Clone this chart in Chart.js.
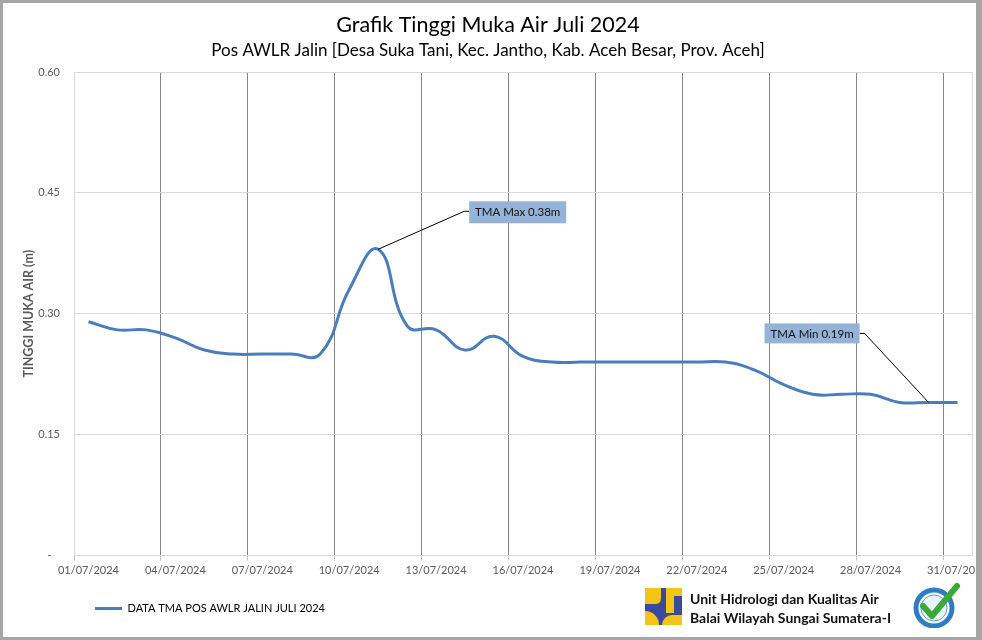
<!DOCTYPE html>
<html>
<head>
<meta charset="utf-8">
<script src="https://cdn.jsdelivr.net/npm/chart.js@4/dist/chart.umd.min.js"></script>
<style>
  html, body { margin: 0; padding: 0; background: #ffffff; }
  #wrap { position: relative; width: 982px; height: 640px; overflow: hidden; background: #fff; }
  #chart { position: absolute; left: 0; top: 0; }
  .frame { position: absolute; background: #a6a6a6; }
  #brand { position: absolute; left: 645px; top: 588px; width: 330px; height: 40px; }
  #brandText { position: absolute; left: 45px; top: 1px; font-family: Lato, sans-serif; font-weight: 700; font-size: 14px; line-height: 19px; color: #111; white-space: nowrap; }
</style>
</head>
<body>
<div id="wrap">
  <canvas id="chart" width="982" height="640"></canvas>
  <div class="frame" style="left:0;top:0;width:3px;height:640px;"></div>
  <div class="frame" style="left:0;top:0;width:982px;height:3px;"></div>
  <div class="frame" style="left:0;top:637px;width:982px;height:3px;"></div>
  <div class="frame" style="left:976px;top:0;width:6px;height:640px;"></div>
  <div id="brand">
    <svg width="37" height="37" viewBox="0 0 37 37" style="position:absolute;left:0;top:0;">
      <rect x="0" y="0" width="37" height="37" fill="#3a4a9b"/>
      <path d="M0 0 H16 V10 Q16 16 10 16 H0 Z" fill="#f5c418"/>
      <rect x="21" y="0" width="16" height="8" fill="#f5c418"/>
      <rect x="21" y="8" width="8" height="17" fill="#f5c418"/>
      <path d="M0 23 A14 14 0 0 1 14 37 H0 Z" fill="#f5c418"/>
      <path d="M17 37 A10 10 0 0 1 27 27 H37 V37 Z" fill="#f5c418"/>
    </svg>
    <div id="brandText">Unit Hidrologi dan Kualitas Air<br>Balai Wilayah Sungai Sumatera-I</div>
    <svg width="50" height="46" viewBox="0 0 50 46" style="position:absolute;left:266px;top:-6px;">
      <circle cx="23" cy="26" r="18" fill="#ffffff" stroke="#2e7dc4" stroke-width="5"/>
      <circle cx="23" cy="26" r="13" fill="#e9f3fb" stroke="#5aa0d8" stroke-width="1"/>
      <path d="M12 24 L21 34 L46 4" fill="none" stroke="#3aa935" stroke-width="6" stroke-linecap="round" stroke-linejoin="round"/>
    </svg>
  </div>
</div>
<script>
// ---- data ----
const categories = ['01/07/2024','02/07/2024','03/07/2024','04/07/2024','05/07/2024','06/07/2024','07/07/2024','08/07/2024','09/07/2024','10/07/2024','11/07/2024','12/07/2024','13/07/2024','14/07/2024','15/07/2024','16/07/2024','17/07/2024','18/07/2024','19/07/2024','20/07/2024','21/07/2024','22/07/2024','23/07/2024','24/07/2024','25/07/2024','26/07/2024','27/07/2024','28/07/2024','29/07/2024','30/07/2024','31/07/2024'];
const tmaValues = [0.29,0.28,0.28,0.27,0.255,0.25,0.25,0.25,0.25,0.33,0.38,0.285,0.28,0.255,0.272,0.247,0.24,0.24,0.24,0.24,0.24,0.24,0.24,0.23,0.212,0.20,0.20,0.20,0.19,0.19,0.19];
const yTicks = [0, 0.15, 0.30, 0.45, 0.60];
const seriesName = 'DATA TMA POS AWLR JALIN JULI 2024';
const calloutTexts = ['TMA Max 0.38m', 'TMA Min 0.19m'];
const calloutIndex = [10, 29];

const FONT = 'Lato, "Open Sans", sans-serif';
const LINE_COLOR = '#4a7ebb';

const calloutStyle = [
  { elbowDx: 86, elbowDy: -38, boxSide: 'left', boxDx: 91, boxDy: -37, h: 22 },
  { elbowDx: -64, elbowDy: -69, boxSide: 'right', boxDx: -69, boxDy: -69, h: 20 }
];

const calloutPlugin = {
  id: 'calloutPlugin',
  afterDatasetsDraw(chart) {
    const ctx = chart.ctx;
    const meta = chart.getDatasetMeta(0);
    ctx.save();
    ctx.font = '11.5px ' + FONT;
    calloutIndex.forEach((idx, k) => {
      const pt = meta.data[idx];
      const st = calloutStyle[k];
      const x = pt.x, y = pt.y;
      const tw = ctx.measureText(calloutTexts[k]).width;
      const bw = Math.round(tw + 12);
      const ex = x + st.elbowDx, ey = y + st.elbowDy;
      const bx = st.boxSide === 'left' ? x + st.boxDx : x + st.boxDx - bw;
      const by = y + st.boxDy - st.h / 2;
      const attachX = st.boxSide === 'left' ? bx : bx + bw;
      ctx.strokeStyle = '#000';
      ctx.lineWidth = 1;
      ctx.beginPath();
      ctx.moveTo(x, y);
      ctx.lineTo(ex, ey);
      ctx.lineTo(attachX, ey);
      ctx.stroke();
      ctx.fillStyle = '#95b3d7';
      ctx.fillRect(bx, by, bw, st.h);
      ctx.fillStyle = '#111';
      ctx.textAlign = 'center';
      ctx.textBaseline = 'middle';
      ctx.fillText(calloutTexts[k], bx + bw / 2, by + st.h / 2 + 0.5);
    });
    ctx.restore();
  }
};

new Chart(document.getElementById('chart'), {
  type: 'line',
  data: {
    labels: categories,
    datasets: [{
      label: seriesName,
      data: tmaValues,
      borderColor: LINE_COLOR,
      backgroundColor: LINE_COLOR,
      borderWidth: 3,
      pointRadius: 0,
      pointHoverRadius: 0,
      tension: 0.45,
      fill: false
    }]
  },
  options: {
    responsive: false,
    animation: false,
    events: [],
    layout: { padding: { left: 4, right: 10, top: 3, bottom: 16 } },
    plugins: {
      title: {
        display: true,
        text: 'Grafik Tinggi Muka Air Juli 2024',
        color: '#000',
        font: { family: FONT, size: 21.5, weight: 'normal' },
        padding: { top: 9, bottom: 0 }
      },
      subtitle: {
        display: true,
        text: 'Pos AWLR Jalin [Desa Suka Tani, Kec. Jantho, Kab. Aceh Besar, Prov. Aceh]',
        color: '#000',
        font: { family: FONT, size: 17, weight: 'normal' },
        padding: { top: 3, bottom: 10.8 }
      },
      legend: {
        display: true,
        position: 'bottom',
        align: 'start',
        fullSize: false,
        labels: {
          font: { family: FONT, size: 11 },
          color: '#222',
          boxWidth: 27,
          boxHeight: 3,
          padding: 21,
          generateLabels: () => [{
            text: seriesName,
            fillStyle: LINE_COLOR,
            strokeStyle: LINE_COLOR,
            lineWidth: 0,
            hidden: false,
            datasetIndex: 0
          }]
        }
      },
      tooltip: { enabled: false }
    },
    scales: {
      x: {
        type: 'category',
        offset: true,
        afterFit: (s) => { s.height = 26.5; s.paddingRight = 0; s.paddingLeft = 0; },
        grid: {
          offset: true,
          drawOnChartArea: true,
          tickLength: 5,
          color: (c) => {
            if (c.index === undefined) return '#d9d9d9';
            if (c.index === 0) return '#d9d9d9';
            return c.index % 3 === 0 ? '#868686' : 'rgba(0,0,0,0)';
          },
          tickColor: (c) => (c.index !== undefined && c.index % 3 === 0) ? '#bfbfbf' : 'rgba(0,0,0,0)',
          lineWidth: 1
        },
        border: { display: true, color: '#d9d9d9' },
        ticks: {
          autoSkip: false,
          maxRotation: 0,
          minRotation: 0,
          padding: 3,
          color: '#595959',
          font: { family: FONT, size: 11 },
          callback: (v, i) => (i % 3 === 0 ? categories[i] : '')
        }
      },
      y: {
        min: 0,
        max: 0.6,
        afterFit: (s) => { s.width = 70; },
        afterBuildTicks: (s) => { s.ticks = yTicks.map(v => ({ value: v })); },
        grid: { color: '#d9d9d9', drawTicks: false },
        border: { display: true, color: '#d9d9d9' },
        ticks: {
          padding: 14,
          color: '#595959',
          font: { family: FONT, size: 11 },
          callback: (v) => (v === 0 ? '-   ' : Number(v).toFixed(2))
        },
        title: {
          display: true,
          text: 'TINGGI MUKA AIR (m)',
          color: '#595959',
          font: { family: FONT, size: 12.5, weight: 'bold' },
          padding: { top: 17, bottom: 0 }
        }
      }
    }
  },
  plugins: [calloutPlugin]
});
</script>
</body>
</html>
